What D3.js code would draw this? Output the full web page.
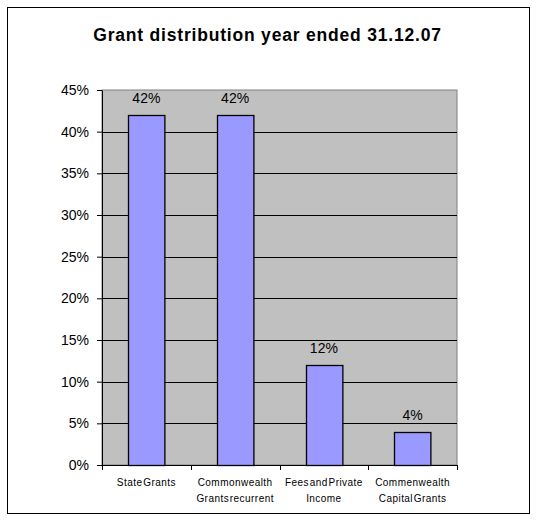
<!DOCTYPE html>
<html>
<head>
<meta charset="utf-8">
<script src="https://cdn.jsdelivr.net/npm/d3@7"></script>
<style>
  body { margin: 0; background: #fff; }
  text { font-family: "Liberation Sans", Arial, sans-serif; }
</style>
</head>
<body>
<div id="chart"></div>
<script>
// Chart data
const categories = [
  ["State Grants"],
  ["Commonwealth", "Grants recurrent"],
  ["Fees and Private", "Income"],
  ["Commenwealth", "Capital Grants"]
];
const values = [42, 42, 12, 4];
const yTicks = [0, 5, 10, 15, 20, 25, 30, 35, 40, 45];
const title = "Grant distribution year ended 31.12.07";

// Dimensions
const W = 537, H = 520;
const margin = { top: 90, right: 80, bottom: 55, left: 102 };
const width = W - margin.left - margin.right;
const height = H - margin.top - margin.bottom;

const svg = d3.select("#chart")
  .append("svg")
    .attr("width", W)
    .attr("height", H);

// Outer frame
svg.append("rect")
  .attr("x", 7.5).attr("y", 7.5)
  .attr("width", 522).attr("height", 506)
  .attr("fill", "#fff")
  .attr("stroke", "#000")
  .attr("stroke-width", 1);

// Title
svg.append("text")
  .attr("x", W / 2 - 1)
  .attr("y", 41)
  .attr("text-anchor", "middle")
  .style("font-size", "17.5px")
  .style("font-weight", "bold")
  .style("letter-spacing", "0.8px")
  .text(title);

const g = svg.append("g")
  .attr("transform", `translate(${margin.left},${margin.top})`);

// Scales
const x = d3.scaleBand()
  .domain(d3.range(categories.length))
  .range([0, width])
  .paddingInner(0.59)
  .paddingOuter(0.295);
const y = d3.scaleLinear().domain([0, 45]).range([height, 0]);

// Plot background
g.append("rect")
  .attr("width", width)
  .attr("height", height)
  .attr("fill", "#c0c0c0")
  .attr("stroke", "#808080");

// Gridlines
g.selectAll(".grid")
  .data(yTicks.filter(d => d > 0 && d < 45))
  .enter().append("line")
    .attr("x1", 0).attr("x2", width)
    .attr("y1", d => Math.round(y(d)) + 0.5)
    .attr("y2", d => Math.round(y(d)) + 0.5)
    .attr("stroke", "#000");

// Bars
g.selectAll(".bar")
  .data(values)
  .enter().append("rect")
    .attr("x", (d, i) => Math.round(x(i)) + 0.5)
    .attr("y", d => Math.round(y(d)) + 0.5)
    .attr("width", x.bandwidth())
    .attr("height", d => height - Math.round(y(d)))
    .attr("fill", "#9999ff")
    .attr("stroke", "#000")
    .attr("stroke-width", 1.3);

// Value labels
g.selectAll(".val")
  .data(values)
  .enter().append("text")
    .attr("x", (d, i) => x(i) + x.bandwidth() / 2)
    .attr("y", d => y(d) - 12)
    .attr("text-anchor", "middle")
    .style("font-size", "14px")
    .text(d => d + "%");

// Y axis
const yAxis = g.append("g")
  .call(d3.axisLeft(y).tickValues(yTicks).tickFormat(d => d + "%").tickSize(5).tickSizeOuter(0));
yAxis.select(".domain").attr("stroke", "#000");
yAxis.selectAll("text").style("font-size", "14px").attr("fill", "#000").attr("x", -13);

// X axis
const bandStep = width / categories.length;
const xAxis = g.append("g").attr("transform", `translate(0,${height})`);
xAxis.append("line")
  .attr("x1", 0).attr("x2", width)
  .attr("y1", 0.5).attr("y2", 0.5)
  .attr("stroke", "#000");
xAxis.selectAll(".tick")
  .data(d3.range(categories.length + 1))
  .enter().append("line")
    .attr("x1", d => Math.round(d * bandStep) + 0.5)
    .attr("x2", d => Math.round(d * bandStep) + 0.5)
    .attr("y1", 0).attr("y2", 5)
    .attr("stroke", "#000");

const catLabels = xAxis.selectAll(".cat")
  .data(categories)
  .enter().append("text")
    .attr("text-anchor", "middle")
    .attr("transform", (d, i) => `translate(${x(i) + x.bandwidth() / 2},0)`)
    .style("font-size", "10px")
    .style("letter-spacing", "0.45px")
    .style("word-spacing", "-2.5px");
catLabels.selectAll("tspan")
  .data(d => d)
  .enter().append("tspan")
    .attr("x", 0)
    .attr("y", (d, i) => 21 + i * 16)
    .text(d => d);
</script>
</body>
</html>
